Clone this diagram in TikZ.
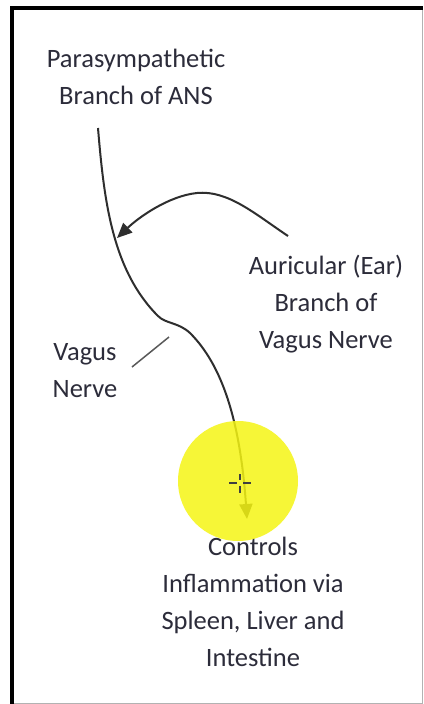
\documentclass[tikz,border=0pt]{standalone}
\usepackage{fontspec}
\setmainfont{Carlito}
\usetikzlibrary{arrows.meta}
\definecolor{txt}{HTML}{2C2C3A}
\definecolor{nerve}{HTML}{2E2E2E}
\definecolor{hl}{RGB}{245,245,20}
\begin{document}
\begin{tikzpicture}[x=1pt,y=-1pt,
  lbl/.style={font=\fontsize{26.5}{37}\selectfont, text=txt, align=center, inner sep=0pt, anchor=base},
  nervecurve/.style={draw=nerve, line width=2pt},
  tip/.style={-{Triangle[length=15pt,width=13pt]}}]
\useasboundingbox (0,0) rectangle (423,704);
\fill[white] (0,0) rectangle (423,704);
% frame
\draw[gray!60, line width=1pt] (12,703.5) -- (422.5,703.5) -- (422.5,8);
\draw[black, line width=3.5pt] (12,704) -- (12,8) -- (423,8);
% labels (anchor = baseline of the last line)
\node[lbl] (para) at (136,104) {Parasympathetic\\Branch of ANS};
\node[lbl] (auric) at (326,348) {Auricular (Ear)\\Branch of\\Vagus Nerve};
\node[lbl] (vagus) at (85,397) {Vagus\\Nerve};
\node[lbl] (controls) at (253,666) {Controls\\Inflammation via\\Spleen, Liver and\\Intestine};
% connectors
\coordinate (vstart) at (98,128);
\coordinate (vend) at (247,519);
\coordinate (astart) at (288,236);
\coordinate (aend) at (117,238);
\coordinate (lblA) at (132,367);
\coordinate (lblB) at (169,337);
\draw[nervecurve, tip] (vstart) .. controls (104,200) and (112,270) .. (158,316)
  .. controls (166,324) and (178,322) .. (190,333)
  .. controls (222,365) and (240,420) .. (vend);
\draw[nervecurve, tip] (astart) .. controls (255,214) and (228,190) .. (197,193)
  .. controls (168,196) and (138,218) .. (aend);
\draw[gray!70!black, line width=1.5pt] (lblA) -- (lblB);
% highlight
\fill[hl, opacity=0.85] (238,481) circle (60);
% cursor
\begin{scope}[line width=2.6pt, white]
\draw (229,483) -- (237,483) (243,483) -- (251,483) (240,474) -- (240,480) (240,486) -- (240,493);
\end{scope}
\begin{scope}[line width=1.2pt, black!75]
\draw (229,483) -- (237,483) (243,483) -- (251,483) (240,474) -- (240,480) (240,486) -- (240,493);
\end{scope}
\end{tikzpicture}
\end{document}
